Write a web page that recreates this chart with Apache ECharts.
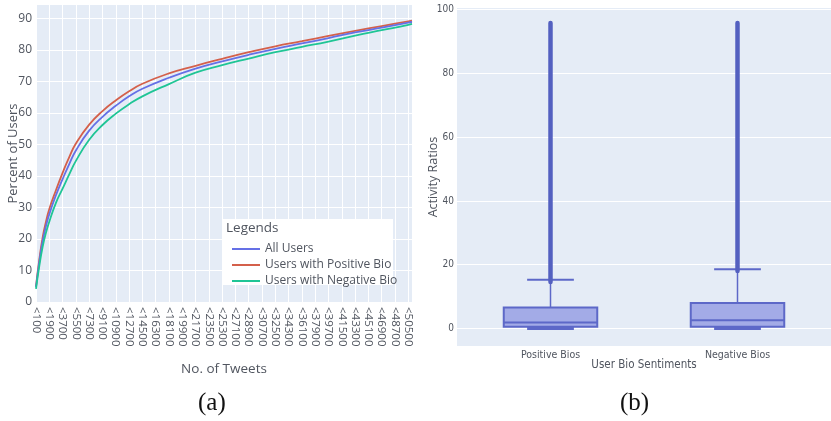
<!DOCTYPE html>
<html><head><meta charset="utf-8">
<script src="https://cdn.jsdelivr.net/npm/echarts@6/dist/echarts.min.js"></script>
<style>html,body{margin:0;padding:0;background:#fff}#c{width:831px;height:421px}</style>
</head><body><div id="c"></div>
<script>
// ---------- (a) cumulative percent of users vs. number of tweets ----------
const tweetTickLabels = ['<100','<1900','<3700','<5500','<7300','<9100','<10900','<12700','<14500','<16300',
  '<18100','<19900','<21700','<23500','<25300','<27100','<28900','<30700','<32500','<34300','<36100',
  '<37900','<39700','<41500','<43300','<45100','<46900','<48700','<50500'];
const tweetCounts = [100,550,1000,1450,1900,2800,3700,4600,5500,7300,9100,10900,12700,14500,18100,21700,
  25300,28900,32500,36100,39700,43300,46900,50500,51000];
const allUsers    = [4.7,12.7,19.3,24.1,27.9,33.9,39.0,43.8,48.1,54.4,58.8,62.3,65.3,67.7,71.2,74.1,
  76.4,78.5,80.4,82.1,83.8,85.6,87.1,88.7,88.9];
const positiveBio = [5.0,13.5,20.5,25.5,29.5,35.5,41.0,46.0,50.3,56.3,60.6,64.0,66.9,69.3,72.6,75.0,
  77.2,79.3,81.2,82.8,84.5,86.1,87.6,89.1,89.3];
const negativeBio = [4.2,11.5,17.5,22.0,25.5,31.5,36.0,40.5,44.8,51.5,56.2,59.8,62.8,65.3,69.2,72.8,
  75.2,77.3,79.3,81.0,82.7,84.6,86.3,88.0,88.3];
const seriesNames = ['All Users','Users with Positive Bio','Users with Negative Bio'];

// ---------- (b) activity ratios box plot ----------
const bioCategories = ['Positive Bios','Negative Bios'];
const whiskerLow  = [0, 0];
const quartile1   = [0.5, 0.5];
const medianVal   = [1.9, 2.6];
const quartile3   = [6.6, 8.0];
const whiskerHigh = [15.3, 18.6];
const outlierLow  = [14.6, 18.0];
const outlierHigh = [95.8, 95.8];

const tickStep = 1800, tickStart = 100;
const toIdx = t => (t - tickStart) / tickStep;
const pairs = arr => tweetCounts.map((t, i) => [toIdx(t), arr[i]]);

const txt = '#50555f';
const sans = "'Open Sans', 'DejaVu Sans', sans-serif";
const narrow = "'Liberation Sans Narrow', 'DejaVu Sans Condensed', 'Open Sans', sans-serif";
const colors = ['#6570e6', '#d4604b', '#1fc595'];

function renderBox(params, api) {
  const i = api.value(0);
  const band = api.size([1, 0])[0];
  const bw = band * 0.5, cw = band * 0.25;
  const cx = api.coord([i, 0])[0];
  const y = v => api.coord([i, v])[1];
  const stroke = '#5d68c8';
  const lo = api.value(1), q1 = api.value(2), med = api.value(3), q3 = api.value(4), hi = api.value(5);
  const oLo = api.value(6), oHi = api.value(7);
  return {
    type: 'group',
    children: [
      {type: 'line', shape: {x1: cx, y1: y(hi), x2: cx, y2: y(q3)}, style: {stroke, lineWidth: 1.5}},
      {type: 'line', shape: {x1: cx, y1: y(q1), x2: cx, y2: y(lo)}, style: {stroke, lineWidth: 1.5}},
      {type: 'line', shape: {x1: cx - cw / 2, y1: y(hi), x2: cx + cw / 2, y2: y(hi)}, style: {stroke, lineWidth: 2}},
      {type: 'line', shape: {x1: cx - cw / 2, y1: y(lo), x2: cx + cw / 2, y2: y(lo)}, style: {stroke, lineWidth: 3}},
      {type: 'rect', shape: {x: cx - bw / 2, y: y(q3), width: bw, height: y(q1) - y(q3)},
        style: {fill: 'rgba(110,118,218,0.55)', stroke, lineWidth: 2}},
      {type: 'line', shape: {x1: cx - bw / 2, y1: y(med), x2: cx + bw / 2, y2: y(med)}, style: {stroke, lineWidth: 2}},
      {type: 'line', shape: {x1: cx, y1: y(oLo), x2: cx, y2: y(oHi)},
        style: {stroke: '#5360c0', lineWidth: 4.5, lineCap: 'round'}}
    ]
  };
}

const chart = echarts.init(document.getElementById('c'), null, {renderer: 'canvas'});
chart.setOption({
  backgroundColor: '#ffffff',
  animation: false,
  textStyle: {fontFamily: sans},
  grid: [
    {left: 36, top: 5, width: 376, height: 297, show: true, backgroundColor: '#e5ecf6', borderWidth: 0, containLabel: false},
    {left: 457, top: 8, right: -9, height: 338, show: true, backgroundColor: '#e5ecf6', borderWidth: 0, containLabel: false}
  ],
  xAxis: [
    {type: 'value', gridIndex: 0, min: 0, max: toIdx(51000), interval: 1,
      name: 'No. of Tweets', nameLocation: 'middle', nameGap: 60, nameMoveOverlap: false,
      nameTextStyle: {color: txt, fontSize: 13.5, fontFamily: sans},
      axisLine: {show: false}, axisTick: {show: false},
      axisLabel: {rotate: -90, margin: 5, color: txt, fontSize: 11.5, fontFamily: sans,
        formatter: v => (Number.isInteger(v) && tweetTickLabels[v]) ? tweetTickLabels[v] : ''},
      splitLine: {show: true, showMaxLine: false, lineStyle: {color: '#ffffff', width: 1}}},
    {type: 'category', gridIndex: 1, data: bioCategories,
      name: 'User Bio Sentiments', nameLocation: 'middle', nameGap: 13, nameMoveOverlap: false,
      nameTextStyle: {color: txt, fontSize: 11.5, fontFamily: narrow},
      axisLine: {show: false}, axisTick: {show: false},
      axisLabel: {margin: 4, color: txt, fontSize: 10.5, fontFamily: narrow},
      splitLine: {show: false}}
  ],
  yAxis: [
    {type: 'value', gridIndex: 0, min: 0, max: 94.3, interval: 10,
      name: 'Percent of Users', nameLocation: 'middle', nameGap: 16, nameMoveOverlap: false,
      nameTextStyle: {color: txt, fontSize: 13, fontFamily: sans},
      axisLine: {show: false}, axisTick: {show: false},
      axisLabel: {margin: 4, color: txt, fontSize: 12, fontFamily: sans, showMaxLabel: false},
      splitLine: {show: true, showMaxLine: false, lineStyle: {color: '#ffffff', width: 1}}},
    {type: 'value', gridIndex: 1, min: -5.5, max: 100.5, splitNumber: 5,
      name: 'Activity Ratios', nameLocation: 'middle', nameGap: 17, nameMoveOverlap: false,
      nameTextStyle: {color: txt, fontSize: 12.5, fontFamily: sans},
      axisLine: {show: false}, axisTick: {show: false},
      axisLabel: {margin: 3, color: txt, fontSize: 10, fontFamily: narrow, showMinLabel: false, showMaxLabel: false},
      splitLine: {show: true, showMinLine: false, showMaxLine: false, lineStyle: {color: '#ffffff', width: 1}}}
  ],
  legend: {
    data: seriesNames, orient: 'vertical', left: 227, top: 237, itemGap: 2,
    icon: 'rect', itemWidth: 28, itemHeight: 2,
    textStyle: {color: txt, fontSize: 12, fontFamily: sans, lineHeight: 14},
    z: 6
  },
  graphic: [
    {type: 'rect', left: 222, top: 219, shape: {width: 171, height: 66}, style: {fill: '#ffffff'}, z: 5},
    {type: 'text', left: 226, top: 221, style: {text: 'Legends', fill: txt, font: "13.5px 'Open Sans'"}, z: 6},
    {type: 'text', left: 198, top: 391, style: {text: '(a)', fill: '#111', font: "25px 'Liberation Serif', 'DejaVu Serif', serif"}},
    {type: 'text', left: 620, top: 391, style: {text: '(b)', fill: '#111', font: "25px 'Liberation Serif', 'DejaVu Serif', serif"}}
  ],
  series: [
    {name: seriesNames[0], type: 'line', xAxisIndex: 0, yAxisIndex: 0, data: pairs(allUsers),
      smooth: 0.5, showSymbol: false, symbol: 'none', lineStyle: {width: 1.8, color: colors[0]}, itemStyle: {color: colors[0]}, z: 3},
    {name: seriesNames[1], type: 'line', xAxisIndex: 0, yAxisIndex: 0, data: pairs(positiveBio),
      smooth: 0.5, showSymbol: false, symbol: 'none', lineStyle: {width: 1.8, color: colors[1]}, itemStyle: {color: colors[1]}, z: 2},
    {name: seriesNames[2], type: 'line', xAxisIndex: 0, yAxisIndex: 0, data: pairs(negativeBio),
      smooth: 0.5, showSymbol: false, symbol: 'none', lineStyle: {width: 1.8, color: colors[2]}, itemStyle: {color: colors[2]}, z: 4},
    {name: 'Activity Ratios', type: 'custom', xAxisIndex: 1, yAxisIndex: 1,
      renderItem: renderBox,
      encode: {x: 0, y: [1, 2, 3, 4, 5, 6, 7]},
      data: bioCategories.map((c, i) => [i, whiskerLow[i], quartile1[i], medianVal[i], quartile3[i],
        whiskerHigh[i], outlierLow[i], outlierHigh[i]])}
  ]
});
</script>
</body></html>
